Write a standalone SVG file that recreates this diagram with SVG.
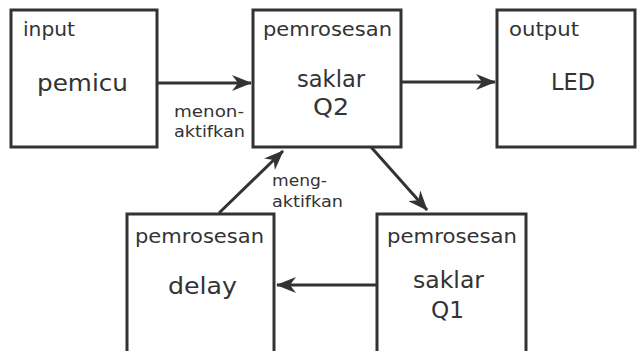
<svg xmlns="http://www.w3.org/2000/svg" width="638" height="351" viewBox="0 0 638 351">
<defs>
<marker id="ah" viewBox="0 0 20 16" refX="19" refY="8" markerWidth="20" markerHeight="16" markerUnits="userSpaceOnUse" orient="auto">
<path d="M0,0 L20,8 L0,16 L6,8 Z" fill="#333"/>
</marker>
</defs>
<style>
.box{fill:#fff;stroke:#333;stroke-width:3}
.t{font-family:"DejaVu Sans","Liberation Sans",sans-serif;fill:#333}
.h{font-size:19px}
.m{font-size:23px}
.s{font-size:16px}
.c{stroke:#333;stroke-width:3;fill:none;marker-end:url(#ah)}
</style>
<rect width="638" height="351" fill="#fff"/>
<g id="input">
<rect class="box" x="11" y="10" width="146" height="137"/>
<text class="t h" x="23" y="36" textLength="52" lengthAdjust="spacingAndGlyphs">input</text>
<text class="t m" x="37" y="91" textLength="91" lengthAdjust="spacingAndGlyphs">pemicu</text>
</g>
<g id="q2">
<rect class="box" x="253" y="10" width="148" height="137"/>
<text class="t h" x="263" y="36" textLength="129" lengthAdjust="spacingAndGlyphs">pemrosesan</text>
<text class="t m" x="297" y="87" textLength="68" lengthAdjust="spacingAndGlyphs">saklar</text>
<text class="t m" x="313" y="115" textLength="36" lengthAdjust="spacingAndGlyphs">Q2</text>
</g>
<g id="output">
<rect class="box" x="497" y="10" width="138" height="137"/>
<text class="t h" x="509" y="36" textLength="70" lengthAdjust="spacingAndGlyphs">output</text>
<text class="t m" x="551" y="90" textLength="44" lengthAdjust="spacingAndGlyphs">LED</text>
</g>
<g id="delay">
<rect class="box" x="127" y="214" width="147" height="142"/>
<text class="t h" x="135" y="243" textLength="129" lengthAdjust="spacingAndGlyphs">pemrosesan</text>
<text class="t m" x="168" y="294" textLength="69" lengthAdjust="spacingAndGlyphs">delay</text>
</g>
<g id="q1">
<rect class="box" x="377" y="214" width="149" height="142"/>
<text class="t h" x="387" y="243" textLength="130" lengthAdjust="spacingAndGlyphs">pemrosesan</text>
<text class="t m" x="413" y="288" textLength="71" lengthAdjust="spacingAndGlyphs">saklar</text>
<text class="t m" x="431" y="318" textLength="33" lengthAdjust="spacingAndGlyphs">Q1</text>
</g>
<g id="connectors">
<line class="c" x1="157" y1="83" x2="251" y2="83"/>
<line class="c" x1="401" y1="82" x2="495" y2="82"/>
<line class="c" x1="371" y1="147" x2="427" y2="210"/>
<line class="c" x1="219" y1="213" x2="283" y2="151"/>
<line class="c" x1="377" y1="285" x2="277" y2="285"/>
<text class="t s" x="174" y="117" textLength="70" lengthAdjust="spacingAndGlyphs">menon-</text>
<text class="t s" x="174" y="137" textLength="71" lengthAdjust="spacingAndGlyphs">aktifkan</text>
<text class="t s" x="272" y="186" textLength="55" lengthAdjust="spacingAndGlyphs">meng-</text>
<text class="t s" x="272" y="207" textLength="71" lengthAdjust="spacingAndGlyphs">aktifkan</text>
</g>
</svg>
